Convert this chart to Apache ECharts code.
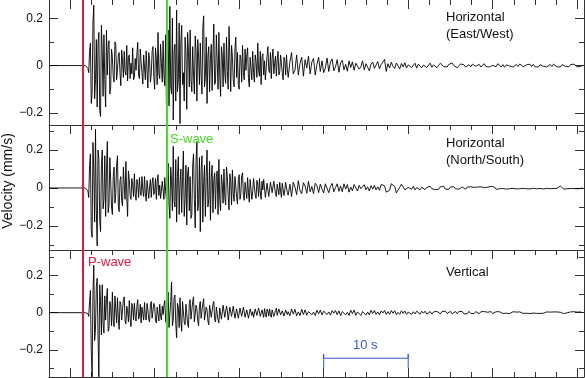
<!DOCTYPE html>
<html><head><meta charset="utf-8">
<script src="https://cdn.jsdelivr.net/npm/echarts@6/dist/echarts.min.js"></script>
<style>html,body{margin:0;padding:0;background:#fff}#c{width:585px;height:378px}</style>
</head><body><div id="c"></div>
<script>
// ---- data ----
const earlyStart = 1.8, earlyStep = 0.1;   // s: dense sampling of the strong-motion part
const lateStart = 26.0, lateStep = 0.2;    // s: coda
const timeMin = -2.5, timeMax = 60.8;
const pArrival = 1.53, sArrival = 11.45;
const scaleBarTimes = [30, 40];
const scaleBarLabel = '10 s';
const majorTimeTicks = [0, 10, 20, 30, 40, 50, 60];
const minorTimeTicks = [2.5, 5, 7.5, 12.5, 15, 17.5, 22.5, 25, 27.5, 32.5, 35, 37.5, 42.5, 45, 47.5, 52.5, 55, 57.5];
const panelTitles = ['Horizontal\n(East/West)', 'Horizontal\n(North/South)', 'Vertical'];
const velocityRanges = [[-0.251, 0.277], [-0.327, 0.332], [-0.346, 0.337]];
const majorVelTicks = [-0.2, 0, 0.2];
const minorVelTicks = [-0.3, -0.1, 0.1, 0.3];
const yAxisTitle = 'Velocity (mm/s)';

// velocities in µm/s (0.001 mm/s)
const eastWestEarlyUm = [
 0, 0, 6, -12, -30, 60, 95, -160, -120, 180,
 255, -140, -60, 110, -175, 90, 140, -190, -215, 170,
 60, -130, 130, -60, -175, 150, -40, 80, 105, -120,
 -90, 70, 35, -45, -70, 100, 90, -60, -20, 40,
 55, -30, -85, 65, 20, -50, 60, -25, -40, 85,
 -65, 35, 45, -55, 10, -35, 75, -60, -50, 30,
 -20, 50, 98, -40, -55, 70, 15, -30, -78, 45,
 40, -60, 62, -20, -95, 55, 25, -70, -35, 60,
 80, -45, -100, 75, 30, -80, 140, -35, -55, 90,
 10, -70, 105, -40, -85, 130, -200, 90, 150, -170,
 250, -90, -120, 200, -230, 60, 90, -150, 235, -110,
 -60, 180, -245, 100, 170, -80, -30, -150, 120, 60,
 -185, 140, 60, -90, 150, -60, -110, 80, -40, -120,
 125, 60, -150, 110, 35, -80, 95, -40, -120, 160,
 210, -90, -50, 120, -160, 40, 80, -110, 30, 90,
 -105, 50, 175, -80, -70, 130, 20, -100, 140, -40,
 -130, 80, 45, -90, 95, -35, -75, 120, -25, -100,
 165, 30, -110, 85, 40, -60, -90, 70, 120, -50,
 55, -80, -100, 45, 30, -70, 85, -30, -60, 70,
 -20, 40, 75, -55, -90, 35, 40, -60, 60, -30,
 -70, 45, 15, -50, 95, -20, -45, 60, -80, 35,
 50, -40, 20, -60, -65, 40, 80, -20, -30, 55,
 -55, 30, 70, -35, 10, 40, -45, 25, 60, -40,
 -25, 45, 40, -30, -60, 35, 20, -40, 45, -15,
 -50
];
const eastWestLateUm = [
 15, 55, -35, -20, 45, -40, 10, 35, -45,
 25, -10, 40, -35, 15, 30, -40, 5, 35, -25,
 20, -30, -10, 32, -25, 15, 28, -22, -5, 25,
 -28, 12, 22, -18, 5, -24, 20, -8, 16, -20,
 10, 18, -15, -5, 20, -18, 8, 14, -22, 6,
 15, -12, -6, 17, -14, 4, 12, 26, -25, 8,
 -10, 14, -3, -12, 11, 4, -14, 9, -6, 12,
 -10, 3, 11, -9, -2, 10, -11, 6, 8, -9,
 2, 9, -8, -4, 10, -7, 3, 8, -9, 1,
 10, 12, -4, -10, -6, 5, 9, 11, 0, -8,
 -9, -2, 7, 10, 3, -6, -8, 4, -5, 6,
 9, -3, -7, 5, -6, 2, 8, -4, 3, -6,
 -8, 1, 6, -5, 8, 2, -6, 4, -7, 3,
 7, -2, 4, -6, -3, 5, -4, 7, 1, -5,
 -6, 3, -2, 6, -4, 5, -5, 2, -6, 4,
 6, -3, 2, -6, 1, 5, -4, 6, -2, -5,
 3, -6, 4, 5, -3, 2, -5, 4, -4, 6,
 2, -5, 3, -4, 1
];
const northSouthEarlyUm = [
 0, 0, 4, -15, -50, 120, 180, -220, -260, 240,
 90, -180, 310, -120, -305, 200, 150, -170, -230, 120,
 200, -110, -60, 170, -150, 90, 245, -130, -90, 160,
 40, -100, -140, 60, 110, -80, -30, 120, 170, -90,
 -125, 40, 60, -70, -95, 110, 20, -60, 140, -40,
 -150, 90, 45, -40, -60, 50, 15, -45, 75, -30,
 -65, 45, 20, -50, 55, -20, -40, 60, -10, -45,
 60, -30, -70, 40, 35, -55, 5, 45, -50, 25,
 55, -35, -20, 50, -60, 30, 70, -40, 15, -55,
 -45, 35, 30, -60, 55, -20, -60, 80, 130, -90,
 -160, 110, 40, -120, 220, -70, -100, 150, -180, 60,
 165, -140, 20, 100, -130, 60, 195, -150, -60, 120,
 -195, 80, 110, -120, 60, -160, -140, 120, 180, -60,
 -210, 140, 245, -120, -80, 160, -230, 90, 170, -180,
 30, 120, -150, 60, 200, -100, -60, 140, -170, 50,
 120, -130, 40, 80, -110, 60, 90, -140, 150, -60,
 -120, 70, 20, -80, 100, -50, -90, 110, 60, -40,
 -115, 75, 35, -90, 95, -30, -70, 60, 10, -50,
 -85, 40, 70, -60, -30, 65, 80, -40, -65, 30,
 25, -55, 55, -25, -75, 45, 40, -60, -20, 50,
 60, -35, -55, 40, 15, -45, 50, -20, -60, 35,
 -10, 45, 55, -50, -40, 25, 25, -45, -50, 30,
 40, -25, -15, 35, 45, -30, -45, 20, 10, -35,
 30, -15, -50, 25, 35, -40, -10, 30, 40, -25,
 -38
];
const northSouthLateUm = [
 20, -45, 30, 5, -35, 38, -15, -30, 28,
 10, -28, 35, -20, 8, -30, 25, 12, -24, 20,
 -5, -26, 22, 15, -25, 8, 24, -20, 2, 22,
 -18, 10, -20, 22, -6, 18, -22, 5, -15, 18,
 8, -16, 14, -4, -12, 17, -10, 6, -16, 12,
 -6, 14, -10, 6, -12, 18, 28, 12, -22, -32,
 -12, 22, 32, 8, -26, -24, 4, 20, 12, -10,
 -16, 3, 12, -7, 9, -10, 2, 8, -9, 4,
 7, -9, 3, -6, 9, -4, 6, -8, 2, -7,
 6, -3, 8, -6, 1, -7, 5, -2, 7, -5,
 4, -6, 2, 5, -4, -6, 5, -2, 6, -4,
 3, -5, 5, -2, 6, -4, 2, -5, 4, -3,
 8, 12, 5, -7, -10, -4, 5, -3, 4, -6,
 3, -4, 6, -2, 4, -5, 1, -4, 5, -2,
 4, -4, 2, -5, 3, -2, 5, -4, 2, -3,
 4, -5, 2, -2, 4, -4, 1, -3, 4, -2,
 7, 10, 4, -6, -8, -4, 2, -3, 4, -3,
 3, -4, 2, -3, 2
];
const verticalEarlyUm = [
 0, 0, 8, -5, -20, 60, 120, -200, -345, 100,
 255, -150, -90, 140, 185, -120, -345, 150, 60, -120,
 150, -60, -110, 90, -40, 70, 130, -100, -85, 60,
 30, -70, 110, -40, -75, 90, 20, -55, 80, -30,
 -90, 60, 45, -40, -30, 70, 85, -45, -60, 35,
 10, -50, 65, -30, -75, 50, 30, -40, 50, -20,
 -45, 35, 70, -35, -20, 45, -55, 30, 40, -40,
 55, -25, -40, 50, 15, -35, -50, 40, 60, -30,
 -30, 50, 35, -40, -55, 30, 20, -45, 45, -20,
 -40, 35, -10, 40, 65, -45, -60, 70, 110, -80,
 -90, 60, 165, -70, -40, 80, 95, -60, -135, 50,
 30, -80, 80, -40, -100, 60, 55, -50, -65, 45,
 40, -60, -80, 50, 70, -35, -25, 60, 85, -50,
 -60, 40, 20, -45, -70, 35, 60, -30, -40, 50,
 75, -40, -50, 30, 15, -45, -65, 40, 50, -25,
 -20, 45, 60, -35, -50, 30, 35, -40, -55, 25,
 20, -35, -45, 40, 50, -25, -30, 35, 10, -40,
 -50, 30, 35, -20, -15, 35, 45, -30, -30, 20,
 20, -30, -40, 25, 32, -20, -10, 30, 35, -25,
 -28, 15, 15, -30, -35, 20, 25, -15, 5, -25,
 -30, 20, 28, -15, -12, 25, 25, -20, -30, 15,
 10, -25, 22, -10, -24, 20, 8, -18, 20, -12,
 -25, 15, 12, -20, -18, 10, 24, -15, -8, 20,
 18, -12, -22, 10, 6, -18, -20, 14, 16, -10,
 5
];
const verticalLateUm = [
 -16, 20, -8, 18, -17, 4, -16, 18, -10,
 15, -14, 6, 16, -12, 3, -15, 13, -6, 14,
 -12, 8, 13, -10, 4, -13, 11, -3, 12, -11,
 10, -16, 6, 14, -12, 2, -15, 13, -5, 14,
 -14, 4, 12, -15, 6, 11, -13, 3, -12, 13,
 -5, 12, -9, 4, -12, 9, -2, 12, -9, 6,
 -9, 11, -3, 10, -11, 2, -9, 10, -4, 9,
 -9, 3, 8, -9, 5, -7, 8, -2, -8, 8,
 -3, 8, -8, 2, 6, -8, 4, -6, 7, -1,
 -7, 6, -3, 8, -5, 2, 7, -6, 1, 6,
 -6, 7, -2, 6, -7, 3, -6, 7, -4, 5,
 -5, 6, 0, -6, 5, -3, 6, -4, 2, -5,
 6, -5, 2, 5, -4, 5, -2, -4, 6, -3,
 4, -5, 1, 5, -4, 3, -5, 4, 0, -4,
 5, -3, 2, -5, 4, -2, 5, -4, 1, -4,
 5, -3, -2, 4, -4, 3, -5, 4, -1, 4,
 -4, 2, 4, -5, 3, -1, -4, 4, -3, 5,
 -2, 3, -4, 4, -1
];
const traces = [
  [eastWestEarlyUm, eastWestLateUm],
  [northSouthEarlyUm, northSouthLateUm],
  [verticalEarlyUm, verticalLateUm]
];

// ---- layout / styles ----
const frameColor = '#333';
const pColor = '#e8173f', sColor = '#45dc24', barColor = '#3355dd';
const font = '"Liberation Sans", Arial, sans-serif';
const gridBoxes = [{top: 0, height: 125}, {top: 125, height: 125}, {top: 250, height: 127}];

const grids = gridBoxes.map(b => ({left: 49, right: 1, top: b.top, height: b.height, containLabel: false}));
const xAxes = [], yAxes = [];
function xAxis(g, pos, ticks, len, showLine) {
  xAxes.push({gridIndex: g, type: 'value', position: pos, min: timeMin, max: timeMax,
    axisLine: {show: showLine, onZero: false, lineStyle: {color: frameColor, width: 1}},
    axisTick: {show: true, inside: true, length: len, customValues: ticks, lineStyle: {color: frameColor, width: 1}},
    axisLabel: {show: false}, splitLine: {show: false}});
  return xAxes.length - 1;
}
function yAxis(g, pos, ticks, len, showLine, labels) {
  const [lo, hi] = velocityRanges[g];
  const tv = ticks.filter(v => v > lo && v < hi);
  const ax = {gridIndex: g, type: 'value', position: pos, min: lo, max: hi,
    axisLine: {show: showLine, onZero: false, lineStyle: {color: frameColor, width: 1}},
    axisTick: {show: true, inside: true, length: len, customValues: tv, lineStyle: {color: frameColor, width: 1}},
    axisLabel: labels ? {show: true, customValues: tv, margin: 6, color: '#111', fontSize: 12, fontFamily: font,
      formatter: v => (Math.abs(v) < 1e-9 ? '0' : (v < 0 ? '\u2212' : '') + Math.abs(v).toFixed(1))} : {show: false},
    splitLine: {show: false}};
  yAxes.push(ax);
  return yAxes.length - 1;
}
const series = [];
const graphics = [];
const titleTops = [9, 134.5, 263.5];
for (let g = 0; g < 3; g++) {
  const xi = xAxis(g, 'top', majorTimeTicks, 9, g > 0);
  xAxis(g, 'top', minorTimeTicks, 5, false);
  const yi = yAxis(g, 'left', majorVelTicks, 9, true, true);
  yAxis(g, 'left', minorVelTicks, 5, false, false);
  yAxis(g, 'right', majorVelTicks, 9, true, false);
  yAxis(g, 'right', minorVelTicks, 5, false, false);
  const [early, late] = traces[g];
  const data = [[timeMin, 0]]
    .concat(early.map((v, i) => [earlyStart + i * earlyStep, v / 1000]))
    .concat(late.map((v, i) => [lateStart + i * lateStep, v / 1000]));
  series.push({type: 'line', xAxisIndex: xi, yAxisIndex: yi, data, showSymbol: false, symbol: 'none',
    lineStyle: {color: '#000', width: 0.9}, animation: false, clip: true, z: 2, silent: true});
  series.push({type: 'line', xAxisIndex: xi, yAxisIndex: yi, data: [[timeMin, 0]], showSymbol: false, symbol: 'none',
    lineStyle: {width: 0}, animation: false, z: 5, silent: true,
    markLine: {symbol: 'none', silent: true, animation: false, label: {show: false},
      data: [{xAxis: pArrival, lineStyle: {color: pColor, width: 2, type: 'solid'}},
             {xAxis: sArrival, lineStyle: {color: sColor, width: 2, type: 'solid'}}]}});
  graphics.push({type: 'text', left: 446, top: titleTops[g], z: 10,
    style: {text: panelTitles[g], font: '13px ' + font, fill: '#111', lineHeight: 17}});
}
xAxis(2, 'bottom', majorTimeTicks, 9, true);
xAxis(2, 'bottom', minorTimeTicks, 5, false);

// 10 s scale bar in bottom panel
const barLevel = -0.245, capTop = -0.222, capBottom = -0.298;
series.push({type: 'line', xAxisIndex: 4, yAxisIndex: 8, showSymbol: false, symbol: 'none', animation: false, z: 6,
  lineStyle: {color: barColor, width: 1},
  data: [[scaleBarTimes[0], capBottom], [scaleBarTimes[0], capTop], [scaleBarTimes[0], barLevel],
         [scaleBarTimes[1], barLevel], [scaleBarTimes[1], capTop], [scaleBarTimes[1], capBottom]]});

graphics.push({type: 'text', left: 353, top: 337.5, z: 10, style: {text: scaleBarLabel, font: '13px ' + font, fill: barColor, lineHeight: 15}});
graphics.push({type: 'text', left: 170, top: 131.5, z: 10, style: {text: 'S-wave', font: '13px ' + font, fill: sColor, lineHeight: 15}});
graphics.push({type: 'text', left: 88, top: 254.5, z: 10, style: {text: 'P-wave', font: '13px ' + font, fill: pColor, lineHeight: 15}});
graphics.push({type: 'text', x: 8, y: 181, rotation: Math.PI / 2, z: 10,
  style: {text: yAxisTitle, font: '14px ' + font, fill: '#111', align: 'center', verticalAlign: 'middle', textAlign: 'center', textVerticalAlign: 'middle'}});

const chart = echarts.init(document.getElementById('c'), null, {renderer: 'canvas'});
chart.setOption({animation: false, grid: grids, xAxis: xAxes, yAxis: yAxes, series, graphic: graphics});
</script></body></html>
